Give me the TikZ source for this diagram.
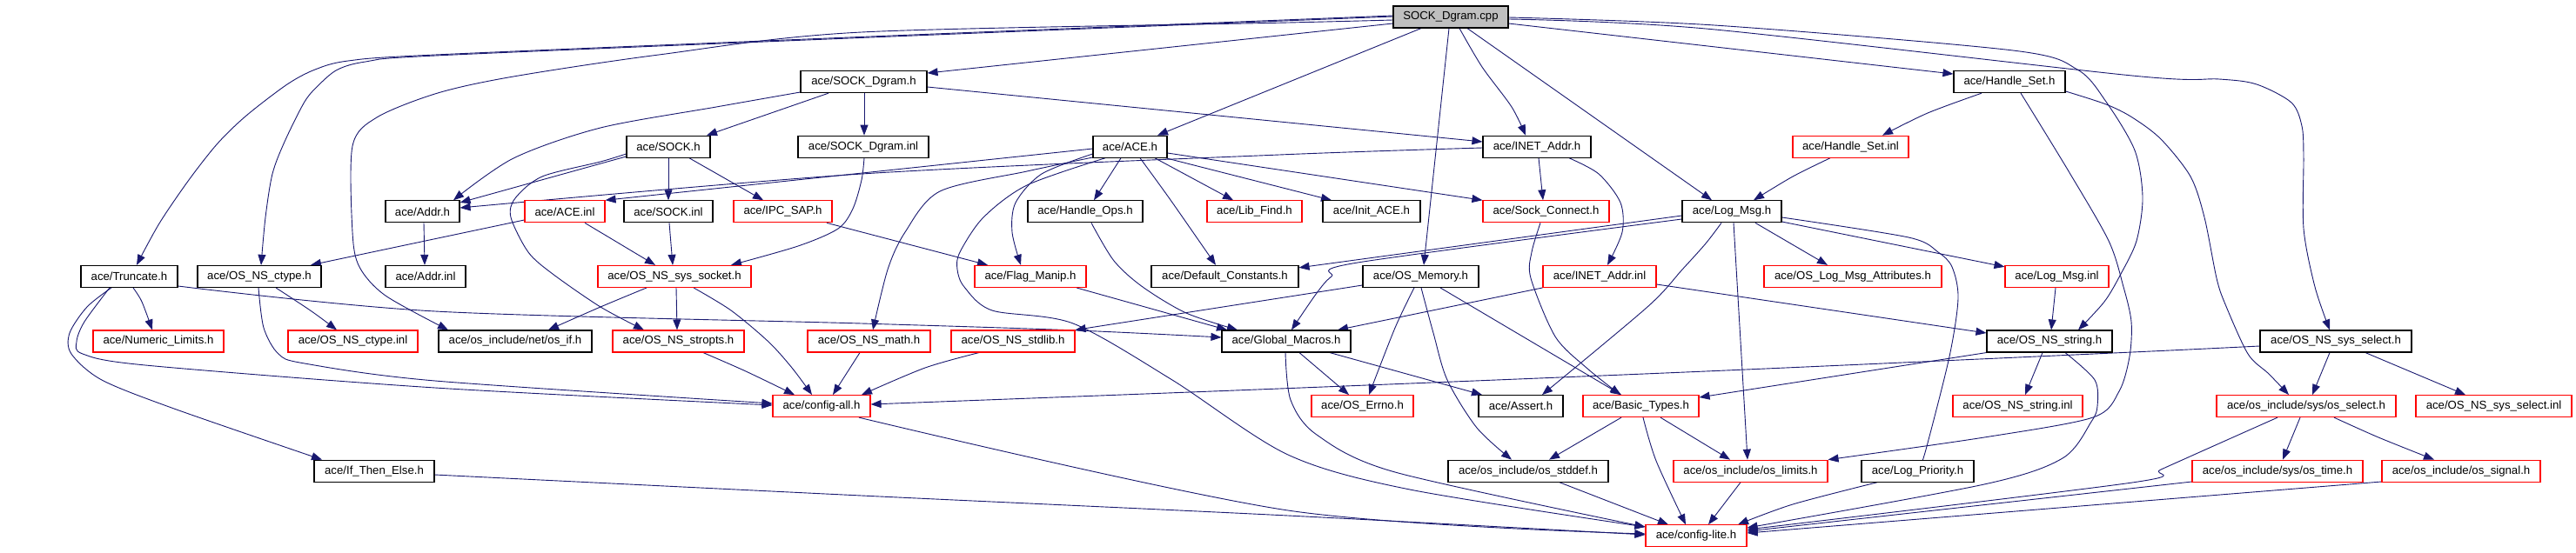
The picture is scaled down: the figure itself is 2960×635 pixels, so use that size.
\documentclass[tikz,border=0pt]{standalone}
\usepackage{fontspec}
\setmainfont{Liberation Sans}
\usetikzlibrary{arrows.meta,backgrounds}
\definecolor{navy}{HTML}{191970}
\definecolor{boxred}{HTML}{FF0000}
\definecolor{rootgray}{HTML}{BFBFBF}
\begin{document}
\begin{tikzpicture}[x=1pt,y=-1pt,
  font=\fontsize{13.2}{15}\selectfont,
  nd/.style={draw=black, fill=white, line width=1.1pt, inner sep=0pt, minimum height=25pt, text=black},
  rd/.style={nd, draw=boxred},
  e/.style={draw=navy, line width=0.9pt, -{Triangle[length=12pt,width=9pt]}}]
\useasboundingbox (0,0) rectangle (2960,635);
% row 0
\node[nd, fill=rootgray, minimum width=132pt] (root) at (1667,19.5) {SOCK\_Dgram.cpp};
% row 1
\node[nd, minimum width=145pt] (sdh) at (992.5,94.1) {ace/SOCK\_Dgram.h};
\node[nd, minimum width=128pt] (hsh) at (2309,94.1) {ace/Handle\_Set.h};
% row 2
\node[nd, minimum width=96pt] (sockh) at (768,168.7) {ace/SOCK.h};
\node[nd, minimum width=150pt] (sdinl) at (992,168.7) {ace/SOCK\_Dgram.inl};
\node[nd, minimum width=85pt] (aceh) at (1298.5,168.7) {ace/ACE.h};
\node[nd, minimum width=124pt] (ineth) at (1766,168.7) {ace/INET\_Addr.h};
\node[rd, minimum width=133pt] (hsinl) at (2126.5,168.7) {ace/Handle\_Set.inl};
% row 3
\node[nd, minimum width=85pt] (addrh) at (485.5,243.3) {ace/Addr.h};
\node[rd, minimum width=92pt] (aceinl) at (649,243.3) {ace/ACE.inl};
\node[nd, minimum width=102pt] (sockinl) at (768,243.3) {ace/SOCK.inl};
\node[rd, minimum width=113pt] (ipc) at (899.5,243.3) {ace/IPC\_SAP.h};
\node[nd, minimum width=132pt] (hops) at (1247,243.3) {ace/Handle\_Ops.h};
\node[rd, minimum width=109pt] (libf) at (1441.5,243.3) {ace/Lib\_Find.h};
\node[nd, minimum width=112pt] (init) at (1576,243.3) {ace/Init\_ACE.h};
\node[rd, minimum width=145pt] (sockc) at (1776.5,243.3) {ace/Sock\_Connect.h};
\node[nd, minimum width=114pt] (logh) at (1990,243.3) {ace/Log\_Msg.h};
% row 4
\node[nd, minimum width=111pt] (trunc) at (148.5,317.9) {ace/Truncate.h};
\node[nd, minimum width=142pt] (ctype) at (298,317.9) {ace/OS\_NS\_ctype.h};
\node[nd, minimum width=92pt] (addrinl) at (489,317.9) {ace/Addr.inl};
\node[rd, minimum width=176pt] (syssock) at (775,317.9) {ace/OS\_NS\_sys\_socket.h};
\node[rd, minimum width=128pt] (flag) at (1184,317.9) {ace/Flag\_Manip.h};
\node[nd, minimum width=169pt] (defc) at (1407.5,317.9) {ace/Default\_Constants.h};
\node[nd, minimum width=133pt] (osmem) at (1632.5,317.9) {ace/OS\_Memory.h};
\node[rd, minimum width=130pt] (inetinl) at (1838,317.9) {ace/INET\_Addr.inl};
\node[rd, minimum width=204pt] (logattr) at (2129,317.9) {ace/OS\_Log\_Msg\_Attributes.h};
\node[rd, minimum width=119pt] (loginl) at (2363.5,317.9) {ace/Log\_Msg.inl};
% row 5
\node[rd, minimum width=150pt] (numl) at (182,392.5) {ace/Numeric\_Limits.h};
\node[rd, minimum width=149pt] (ctypeinl) at (405.5,392.5) {ace/OS\_NS\_ctype.inl};
\node[nd, minimum width=176pt] (osif) at (592,392.5) {ace/os\_include/net/os\_if.h};
\node[rd, minimum width=151pt] (stropts) at (779.5,392.5) {ace/OS\_NS\_stropts.h};
\node[rd, minimum width=141pt] (math) at (998.5,392.5) {ace/OS\_NS\_math.h};
\node[rd, minimum width=142pt] (stdlib) at (1164,392.5) {ace/OS\_NS\_stdlib.h};
\node[nd, minimum width=148pt] (gmac) at (1478,392.5) {ace/Global\_Macros.h};
\node[nd, minimum width=144pt] (nsstr) at (2355,392.5) {ace/OS\_NS\_string.h};
\node[nd, minimum width=174pt] (nssel) at (2684,392.5) {ace/OS\_NS\_sys\_select.h};
% row 6
\node[rd, minimum width=112pt] (cfgall) at (944,467.1) {ace/config-all.h};
\node[rd, minimum width=117pt] (errno) at (1565.5,467.1) {ace/OS\_Errno.h};
\node[nd, minimum width=97pt] (assert) at (1747.5,467.1) {ace/Assert.h};
\node[rd, minimum width=133pt] (btypes) at (1885.5,467.1) {ace/Basic\_Types.h};
\node[rd, minimum width=149pt] (strinl) at (2318.5,467.1) {ace/OS\_NS\_string.inl};
\node[rd, minimum width=206pt] (ossel) at (2650,467.1) {ace/os\_include/sys/os\_select.h};
\node[rd, minimum width=179pt] (selinl) at (2865.5,467.1) {ace/OS\_NS\_sys\_select.inl};
% row 7
\node[nd, minimum width=138pt] (ite) at (430,541.7) {ace/If\_Then\_Else.h};
\node[nd, minimum width=184pt] (stddef) at (1756,541.7) {ace/os\_include/os\_stddef.h};
\node[rd, minimum width=177pt] (limits) at (2011.5,541.7) {ace/os\_include/os\_limits.h};
\node[nd, minimum width=129pt] (logpri) at (2203.5,541.7) {ace/Log\_Priority.h};
\node[rd, minimum width=196pt] (ostime) at (2617,541.7) {ace/os\_include/sys/os\_time.h};
\node[rd, minimum width=182pt] (ossig) at (2828,541.7) {ace/os\_include/os\_signal.h};
% row 8
\node[rd, minimum width=116pt] (cfglite) at (1949,616.3) {ace/config-lite.h};

\begin{pgfonlayer}{background}
\fill[white] (0,0) rectangle (2960,635);
% root
\draw[e] (root.west |- 0,27) -- ([yshift=-3pt]sdh.north east);
\draw[e] plot[smooth] coordinates {(root.west |- 0,18) (1000,42) (500,63) (400,70) (362,80) (330,97) (283,133) (250,165) (217,207) (183,257) (157,0 |- trunc.north)};
\draw[e] plot[smooth] coordinates {(root.west |- 0,19) (1000,43) (500,64) (420,71) (388,80) (367,97) (350,117) (327,163) (313,200) (305,250) (300,0 |- ctype.north)};
\draw[e] plot[smooth] coordinates {(root.west |- 0,23) (1480,26) (990,37) (757,63) (590,88) (503,107) (433,135) (405,168) (405,267) (413,307) (443,340) (515,0 |- osif.north)};
\draw[e] (1633,0 |- root.south) -- (1330,0 |- aceh.north);
\draw[e] (1665,0 |- root.south) -- (1636,0 |- osmem.north);
\draw[e] plot[smooth] coordinates {(1677,0 |- root.south) (1703,77) (1737,123) (1753,0 |- ineth.north)};
\draw[e] (1686,0 |- root.south) -- (1967,0 |- logh.north);
\draw[e] (root.east |- 0,27) -- ([yshift=-4pt]hsh.north west);
\draw[e] plot[smooth] coordinates {(root.east |- 0,20) (1970,29) (2313,58) (2387,80) (2420,117) (2453,173) (2462,227) (2455,277) (2437,315) (2418,347) (2388,0 |- nsstr.north)};
\draw[e] plot[smooth] coordinates {(root.east |- 0,22) (1960,33) (2450,87) (2550,91) (2593,97) (2633,118) (2645,145) (2647,180) (2647,263) (2660,330) (2677,0 |- nssel.north)};
% SOCK_Dgram.h, SOCK.h
\draw[e] (952,0 |- sdh.south) -- (812,0 |- sockh.north);
\draw[e] plot[smooth] coordinates {(sdh.west |- 0,106) (823,123) (690,147) (590,182) (521,0 |- addrh.north)};
\draw[e] (993,0 |- sdh.south) -- (993,0 |- sdinl.north);
\draw[e] (sdh.east |- 0,100) -- (ineth.west |- 0,163);
\draw[e] (sockh.west |- 0,180) -- (addrh.east |- 0,233);
\draw[e] (768,0 |- sockh.south) -- (768,0 |- sockinl.north);
\draw[e] (792,0 |- sockh.south) -- (877,0 |- ipc.north);
\draw[e] plot[smooth] coordinates {(sockh.west |- 0,177) (690,186) (623,203) (592,228) (587,250) (607,290) (635,315) (690,353) (740,0 |- stropts.north)};
\draw[e] plot[smooth] coordinates {(993,0 |- sdinl.south) (990,207) (980,240) (963,263) (917,283) (840,0 |- syssock.north)};
\draw[e] (aceh.west |- 0,171) -- (aceinl.north east);
\draw[e] plot[smooth] coordinates {(ineth.west |- 0,170) (1470,178) (990,200) (addrh.east |- 0,239)};
% ACE.h
\draw[e] (1288,0 |- aceh.south) -- (1257,0 |- hops.north);
\draw[e] (1327,0 |- aceh.south) -- (1417,0 |- libf.north);
\draw[e] ([xshift=-2pt]aceh.south east) -- (1530,0 |- init.north);
\draw[e] (aceh.east |- 0,176) -- (sockc.north west);
\draw[e] plot[smooth] coordinates {(1310,0 |- aceh.south) (1345,230) (1397,0 |- defc.north)};
\draw[e] plot[smooth] coordinates {(aceh.west |- 0,177) (1197,200) (1167,233) (1163,267) (1173,0 |- flag.north)};
\draw[e] plot[smooth] coordinates {(aceh.west |- 0,181) (1180,197) (1080,220) (1040,267) (1020,310) (1003,0 |- math.north)};
\draw[e] plot[smooth] coordinates {(1270,0 |- aceh.south) (1180,213) (1130,250) (1103,290) (1100,310) (1108,330) (1140,357) (1233,372) (1347,437) (1480,523) (1620,563) (cfglite.west |- 0,606)};
% row 3 sources
\draw[e] (672,0 |- aceinl.south) -- (753,0 |- syssock.north);
\draw[e] (aceinl.west |- 0,253) -- (357,0 |- ctype.north);
\draw[e] (769,0 |- sockinl.south) -- (773,0 |- syssock.north);
\draw[e] (950,0 |- ipc.south) -- (1135,0 |- flag.north);
\draw[e] (487,0 |- addrh.south) -- (488,0 |- addrinl.north);
\draw[e] (1768,0 |- ineth.south) -- (1773,0 |- sockc.north);
\draw[e] plot[smooth] coordinates {(1803,0 |- ineth.south) (1837,200) (1862,233) (1864,267) (1847,0 |- inetinl.north)};
\draw[e] plot[smooth] coordinates {(1770,0 |- sockc.south) (1760,290) (1759,320) (1787,387) (1823,423) (1862,0 |- btypes.north)};
% Handle_Set
\draw[e] plot[smooth] coordinates {(2277,0 |- hsh.south) (2215,130) (2163,0 |- hsinl.north)};
\draw[e] plot[smooth] coordinates {(2103,0 |- hsinl.south) (2060,203) (2015,0 |- logh.north)};
\draw[e] plot[smooth] coordinates {(hsh.east |- 0,105) (2420,120) (2450,135) (2483,160) (2517,203) (2533,250) (2547,320) (2557,350) (2583,407) (2607,430) (2630,0 |- ossel.north)};
\draw[e] plot[smooth] coordinates {(2322,0 |- hsh.south) (2377,197) (2423,277) (2440,330) (2449,370) (2447,410) (2435,450) (2405,480) (2280,503) (limits.north east)};
% Log_Msg.h
\draw[e] (logh.west |- 0,248) -- ([yshift=-3pt]defc.north east);
\draw[e] plot[smooth] coordinates {(logh.west |- 0,252) (1560,302) (1530,318) (1513,337) (1484,0 |- gmac.north)};
\draw[e] plot[smooth] coordinates {(1978,0 |- logh.south) (1960,280) (1933,310) (1893,353) (1772,0 |- assert.north)};
\draw[e] (1992,0 |- logh.south) -- (2008,0 |- limits.north);
\draw[e] (2017,0 |- logh.south) -- (2100,0 |- logattr.north);
\draw[e] (logh.east |- 0,255) -- ([yshift=-2pt]loginl.north west);
\draw[e] plot[smooth] coordinates {(logh.east |- 0,250) (2193,273) (2227,290) (2243,307) (2250,343) (2240,410) (2213,517) (2208,0 |- logpri.north)};
% row 4 sources
\draw[e] (2362,0 |- loginl.south) -- (2357,0 |- nsstr.north);
\draw[e] (inetinl.east |- 0,327) -- (nsstr.west |- 0,383);
\draw[e] (inetinl.south west) -- (1537,0 |- gmac.north);
\draw[e] (osmem.west |- 0,328) -- (stdlib.north east);
\draw[e] plot[smooth] coordinates {(1625,0 |- osmem.south) (1603,377) (1573,0 |- errno.north)};
\draw[e] plot[smooth] coordinates {(1633,0 |- osmem.south) (1647,383) (1663,437) (1697,492) (1737,0 |- stddef.north)};
\draw[e] (1655,0 |- osmem.south) -- (1863,0 |- btypes.north);
\draw[e] plot[smooth] coordinates {(153,0 |- trunc.south) (163,347) (175,0 |- numl.north)};
\draw[e] plot[smooth] coordinates {(128,0 |- trunc.south) (100,353) (80,383) (82,407) (117,437) (200,470) (370,0 |- ite.north)};
\draw[e] plot[smooth] coordinates {(126,0 |- trunc.south) (97,370) (88,393) (95,407) (167,420) (500,446) (cfgall.west |- 0,466)};
\draw[e] plot[smooth] coordinates {(trunc.east |- 0,329) (500,358) (990,372) (1237,380) (gmac.west |- 0,388)};
\draw[e] plot[smooth] coordinates {(317,0 |- ctype.south) (358,358) (387,0 |- ctypeinl.north)};
\draw[e] plot[smooth] coordinates {(297,0 |- ctype.south) (303,377) (320,407) (350,418) (500,438) (cfgall.west |- 0,464)};
\draw[e] plot[smooth] coordinates {(743,0 |- syssock.south) (690,353) (630,0 |- osif.north)};
\draw[e] (777,0 |- syssock.south) -- (778,0 |- stropts.north);
\draw[e] plot[smooth] coordinates {(797,0 |- syssock.south) (840,357) (883,393) (910,423) (933,0 |- cfgall.north)};
\draw[e] (1237,0 |- flag.south) -- (1410,0 |- gmac.north);
\draw[e] plot[smooth] coordinates {(1254,0 |- hops.south) (1280,300) (1313,330) (1363,360) (1422,0 |- gmac.north)};
% row 5 sources
\draw[e] plot[smooth] coordinates {(808,0 |- stropts.south) (857,427) (913,0 |- cfgall.north)};
\draw[e] (988,0 |- math.south) -- (957,0 |- cfgall.north);
\draw[e] plot[smooth] coordinates {(1125,0 |- stdlib.south) (1063,423) (990,0 |- cfgall.north)};
\draw[e] (1493,0 |- gmac.south) -- (1550,0 |- errno.north);
\draw[e] (1528,0 |- gmac.south) -- (1703,0 |- assert.north);
\draw[e] plot[smooth] coordinates {(1477,0 |- gmac.south) (1483,460) (1513,500) (1603,543) (cfglite.west |- 0,606)};
\draw[e] plot[smooth] coordinates {(nssel.west |- 0,398) (2450,405) (1960,427) (1470,447) (cfgall.east |- 0,465)};
\draw[e] (2677,0 |- nssel.south) -- (2657,0 |- ossel.north);
\draw[e] plot[smooth] coordinates {(2718,0 |- nssel.south) (2783,433) (2833,0 |- selinl.north)};
\draw[e] (2347,0 |- nsstr.south) -- (2327,0 |- strinl.north);
\draw[e] (nsstr.south west) -- (btypes.east |- 0,457);
\draw[e] plot[smooth] coordinates {(2373,0 |- nsstr.south) (2407,437) (2410,467) (2403,485) (2370,527) (2280,557) (cfglite.east |- 0,607)};
% row 6 sources
\draw[e] (1863,0 |- btypes.south) -- (1780,0 |- stddef.north);
\draw[e] plot[smooth] coordinates {(1888,0 |- btypes.south) (1903,530) (1937,0 |- cfglite.north)};
\draw[e] (1908,0 |- btypes.south) -- (1988,0 |- limits.north);
\draw[e] (2643,0 |- ossel.south) -- (2623,0 |- ostime.north);
\draw[e] plot[smooth] coordinates {(2682,0 |- ossel.south) (2733,503) (2797,0 |- ossig.north)};
\draw[e] plot[smooth] coordinates {(2617,0 |- ossel.south) (2550,510) (2483,540) (2450,555) (cfglite.east |- 0,609)};
\draw[e] plot[smooth] coordinates {(987,0 |- cfgall.south) (1480,587) (cfglite.west |- 0,614)};
% row 7 sources
\draw[e] (ostime.west |- 0,554) -- (cfglite.east |- 0,611);
\draw[e] (ossig.west |- 0,554) -- (cfglite.east |- 0,613);
\draw[e] (1792,0 |- stddef.south) -- (1917,0 |- cfglite.north);
\draw[e] (2000,0 |- limits.south) -- (1963,0 |- cfglite.north);
\draw[e] plot[smooth] coordinates {(2157,0 |- logpri.south) (2060,580) (1997,0 |- cfglite.north)};
\draw[e] plot[smooth] coordinates {(ite.east |- 0,546) (990,570) (1480,593) (cfglite.west |- 0,615)};
\end{pgfonlayer}
\end{tikzpicture}
\end{document}
